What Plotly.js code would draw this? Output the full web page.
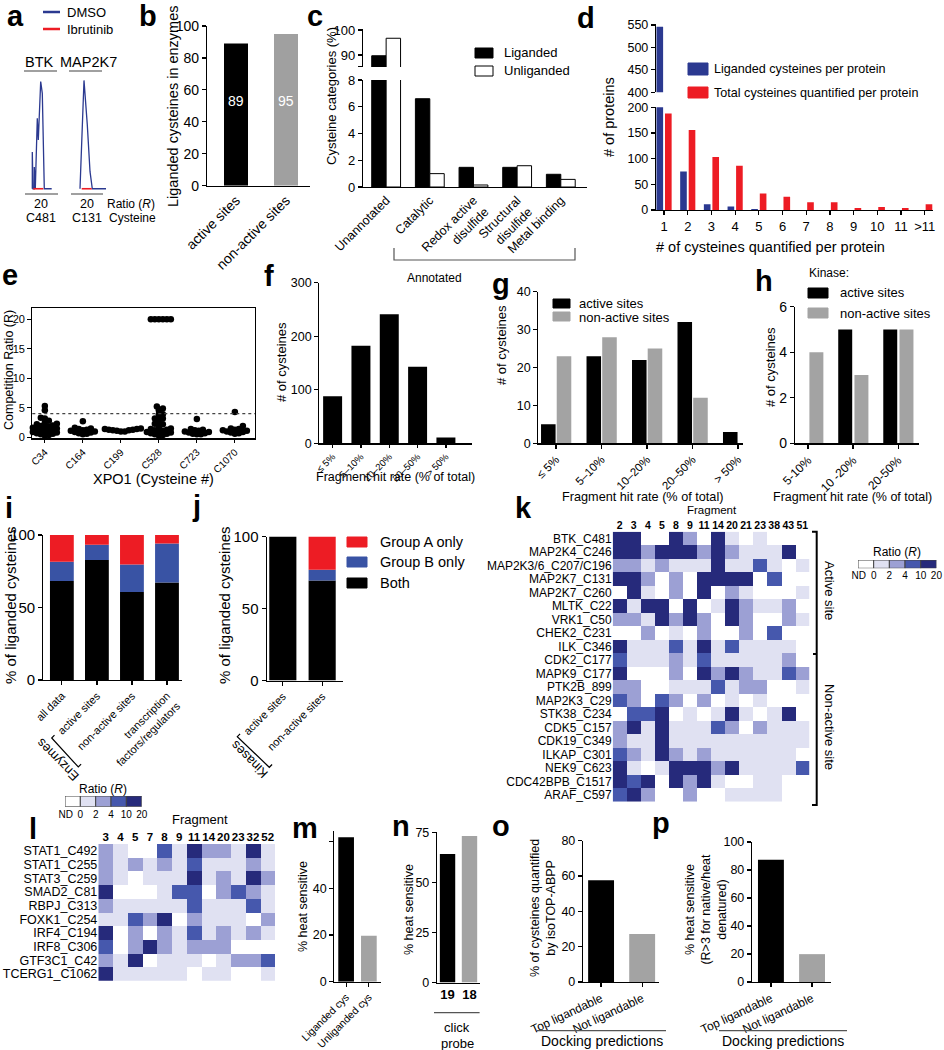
<!DOCTYPE html>
<html>
<head>
<meta charset="utf-8">
<script src="https://cdn.plot.ly/plotly-3.0.1.min.js"></script>
<style>
html,body{margin:0;padding:0;background:#fff;}
#fig{width:944px;height:1050px;}
</style>
</head>
<body>
<div id="fig"></div>
<script>
// ======================= DATA =======================
// (a) chromatogram traces (arbitrary time units, normalised intensity)
const aBtkTime    = [7.3, 7.3, 8.0, 9.3, 9.3, 10.3, 12.3, 13.3, 15.7, 17.3, 19.3, 26.7];
const aBtkDmso    = [0, 34, 0, 0, 20, 0, 65, 45, 99, 88, 0, 0];
const aBtkIbrTime = [8.3, 18.3];
const aBtkIbr     = [0, 0];
const aMapTime    = [11.0, 15.0, 18.3, 21.0, 23.3, 37.0];
const aMapDmso    = [0, 100, 59, 16, 0, 0];
const aMapIbrTime = [12.7, 22.7];
const aMapIbr     = [0, 0];
const aProteins   = ['BTK', 'MAP2K7'];
const aRatios     = ['20', '20'];
const aCysteines  = ['C481', 'C131'];

// (b)
const bCats = ['active sites', 'non-active sites'];
const bVals = [89, 95];

// (c)
const cCats  = ['Unannotated', 'Catalytic', 'Redox active<br>disulfide', 'Structural<br>disulfide', 'Metal binding'];
const cLig   = [89.7, 6.6, 1.47, 1.47, 0.95];
const cUnlig = [96.7, 1.0, 0.15, 1.59, 0.57];

// (d)
const dCats  = ['1', '2', '3', '4', '5', '6', '7', '8', '9', '10', '11', '>11'];
const dLig   = [546, 75, 11, 7, 2, 0, 0, 0, 0, 0, 0, 0];
const dTotal = [188, 156, 103, 86, 32, 26, 15, 15, 4, 6, 4, 11];

// (e) XPO1 competition ratios
const eCys   = ['C34', 'C164', 'C199', 'C528', 'C723', 'C1070'];
const eC34   = [5.3, 4.6, 3.3, 3.2, 2.8, 2.5, 2.3, 2.2, 2.0, 1.9, 1.8, 1.7, 1.6, 1.5, 1.4, 1.3, 1.2, 1.1, 1.0, 0.9, 0.8, 0.7, 0.6, 0.5, 0.4, 0.3];
const eC164  = [2.7, 1.6, 1.5, 1.4, 1.3, 1.2, 1.1, 1.0, 0.9, 0.8, 0.7, 0.6, 0.5];
const eC199  = [1.5, 1.4, 1.4, 1.3, 1.3, 1.2, 1.2, 1.1, 1.0, 1.0];
const eC528  = [20, 20, 20, 20, 20, 20, 5.2, 4.9, 4.6, 3.9, 3.9, 3.2, 3.2, 3.2, 2.5, 2.3, 2.2, 1.8, 1.5, 1.4, 1.3, 1.2, 1.1, 1.0, 0.9, 0.8, 0.7, 0.6, 0.5, 0.4, 0.3];
const eC723  = [3.1, 1.4, 1.3, 1.2, 1.1, 1.0, 0.9, 0.8, 0.7, 0.6, 0.5, 0.5];
const eC1070 = [4.3, 1.9, 1.5, 1.4, 1.3, 1.2, 1.1, 1.0, 0.9, 0.8, 0.7, 0.6];
const eThreshold = 4;

// (f)
const hitBins = ['\u2264 5%', '5\u201310%', '10\u201320%', '20\u201350%', '> 50%'];
const fVals   = [88, 182, 241, 143, 11];

// (g)
const gActive    = [5, 23, 22, 32, 3];
const gNonActive = [23, 28, 25, 12, 0];

// (h)
const hBins      = ['5-10%', '10 -20%', '20-50%'];
const hActive    = [0, 5, 5];
const hNonActive = [4, 3, 5];

// (i)
const iCats   = ['all data', 'active sites', 'non-active sites', 'transcription<br>factors/regulators'];
const iBoth   = [68.3, 82.7, 60.7, 67.2];
const iGroupB = [13.2, 10.6, 19.0, 27.0];
const iGroupA = [18.5, 6.7, 20.3, 5.8];

// (j)
const jCats   = ['active sites', 'non-active sites'];
const jBoth   = [100, 69.4];
const jGroupB = [0, 7.5];
const jGroupA = [0, 23.1];

// ratio bins (heat maps): 0 = ND, 1 = 0-2, 2 = 2-4, 3 = 4-10, 4 = 10-20
const ratioTickText = ['ND', '0', '2', '4', '10', '20'];
const binColors = ['#ffffff', '#e0e1f2', '#9ca0d4', '#4658ad', '#262a7b'];

// (k)
const kFrags = ['2', '3', '4', '5', '8', '9', '11', '14', '20', '21', '23', '38', '43', '51'];
const kRows  = ['BTK_C481', 'MAP2K4_C246', 'MAP2K3/6_C207/C196', 'MAP2K7_C131', 'MAP2K7_C260', 'MLTK_C22', 'VRK1_C50', 'CHEK2_C231', 'ILK_C346', 'CDK2_C177', 'MAPK9_C177', 'PTK2B_899', 'MAP2K3_C29', 'STK38_C234', 'CDK5_C157', 'CDK19_C349', 'ILKAP_C301', 'NEK9_C623', 'CDC42BPB_C1517', 'ARAF_C597'];
const kBins  = [
  [4,4,0,0,4,2,0,4,1,0,1,0,0,0],
  [4,4,2,4,4,4,2,4,2,1,1,1,4,0],
  [2,2,1,2,1,1,1,4,1,1,3,1,0,1],
  [4,4,2,0,2,0,4,4,4,4,0,3,0,0],
  [0,4,1,0,2,0,4,0,2,1,0,0,0,1],
  [4,1,4,4,0,4,0,1,4,2,1,1,2,0],
  [2,2,1,4,2,4,2,0,4,2,0,0,2,1],
  [0,0,2,0,1,0,2,0,0,2,0,3,0,0],
  [4,1,1,1,3,1,4,1,3,1,1,1,1,0],
  [3,1,1,1,2,1,3,1,1,1,1,1,2,0],
  [4,0,0,0,2,0,4,2,4,2,1,1,3,2],
  [2,2,0,0,1,1,1,3,1,2,2,0,0,1],
  [3,2,0,3,2,0,2,0,1,0,1,0,0,0],
  [0,3,3,4,0,1,0,1,4,1,0,1,4,0],
  [2,4,1,4,1,1,1,3,2,0,2,1,1,1],
  [2,1,1,4,1,1,1,1,1,1,1,1,1,1],
  [3,2,1,4,2,1,2,1,1,1,1,1,1,0],
  [4,1,0,1,4,4,4,2,4,1,1,1,1,3],
  [4,3,4,0,4,2,4,1,0,0,1,1,0,0],
  [3,4,2,0,0,2,0,0,1,1,1,1,0,0]
];

// (l)
const lFrags = ['3', '4', '5', '7', '8', '9', '11', '14', '20', '23', '32', '52'];
const lRows  = ['STAT1_C492', 'STAT1_C255', 'STAT3_C259', 'SMAD2_C81', 'RBPJ_C313', 'FOXK1_C254', 'IRF4_C194', 'IRF8_C306', 'GTF3C1_C42', 'TCERG1_C1062'];
const lBins  = [
  [2,1,0,0,3,1,4,2,2,1,4,1],
  [2,1,2,1,2,1,3,1,1,1,2,1],
  [2,1,0,1,1,1,4,1,2,1,4,2],
  [4,0,0,0,1,3,3,0,2,3,2,1],
  [2,1,1,1,1,1,3,1,1,1,3,1],
  [1,1,3,2,4,0,2,1,1,1,0,2],
  [4,0,2,0,2,1,3,1,2,1,2,1],
  [3,0,2,4,2,1,2,2,2,0,0,0],
  [2,1,4,0,1,1,1,0,1,2,2,3],
  [4,1,1,1,1,1,0,1,1,0,0,1]
];

// (m) - (p)
const mCats = ['Liganded cys', 'Unliganded cys'];
const mVals = [62, 19.7];
const nCats = ['19', '18'];
const nVals = [64.2, 73.2];
const oCats = ['Top ligandable', 'Not ligandable'];
const oVals = [57.6, 27.2];
const pCats = ['Top ligandable', 'Not ligandable'];
const pVals = [87.3, 19.9];

// ======================= HELPERS =======================
const W = 944, H = 1050;
const FONT = '"Liberation Sans", Arial, Helvetica, sans-serif';
const BLACK = '#000000', GRAY = '#a3a3a3', NAVY = '#2b3990', RED = '#ed1c24', GBLUE = '#3953a4';
const px = x => x / W, py = y => 1 - y / H;
const tf = (size, extra) => Object.assign({family: FONT, size: size, color: '#000'}, extra || {});

const L = {
  width: W, height: H, margin: {l: 0, r: 0, t: 0, b: 0},
  paper_bgcolor: '#fff', plot_bgcolor: 'rgba(0,0,0,0)',
  showlegend: false, barmode: 'overlay', font: tf(13),
  annotations: [], shapes: []
};
const data = [];
let nAx = 0;
function sub(xdom, ydom, xo, yo) {
  nAx++;
  const s = nAx === 1 ? '' : String(nAx);
  L['xaxis' + s] = Object.assign({domain: [px(xdom[0]), px(xdom[1])], anchor: 'y' + s, fixedrange: true}, xo);
  L['yaxis' + s] = Object.assign({domain: [py(ydom[1]), py(ydom[0])], anchor: 'x' + s, fixedrange: true}, yo);
  return {xaxis: 'x' + s, yaxis: 'y' + s};
}
function axis(o) {
  return Object.assign({showline: true, linecolor: '#000', linewidth: 1.2, ticks: 'outside', ticklen: 4,
    tickwidth: 1.2, tickcolor: '#000', showgrid: false, zeroline: false, tickfont: tf(13)}, o);
}
function hidden(o) { return Object.assign({visible: false, showgrid: false, zeroline: false}, o); }
function T(text, x, y, o) {
  o = o || {};
  const a = {text: text, x: px(x), y: py(y), xref: 'paper', yref: 'paper', showarrow: false,
    xanchor: o.xanchor || 'center', yanchor: o.yanchor || 'middle',
    font: tf(o.size || 13, {weight: o.weight || 'normal', color: o.color || '#000'})};
  if (o.angle !== undefined) a.textangle = o.angle;
  if (o.align) a.align = o.align;
  L.annotations.push(a);
}
function P(pts, color, width) {
  const d = pts.map((p, i) => (i ? 'L' : 'M') + px(p[0]).toFixed(5) + ',' + py(p[1]).toFixed(5)).join(' ');
  L.shapes.push({type: 'path', path: d, xref: 'paper', yref: 'paper', line: {color: color || '#000', width: width || 1.2}});
}
function R(x0, y0, x1, y1, fill, line) {
  L.shapes.push({type: 'rect', xref: 'paper', yref: 'paper', x0: px(x0), x1: px(x1), y0: py(y1), y1: py(y0),
    fillcolor: fill, line: {color: line || fill, width: 1}});
}
function bar(ref, x, y, o) {
  data.push(Object.assign({type: 'bar', x: x, y: y, hoverinfo: 'skip'}, ref, o));
}
function letter(ch, x, baseline) { T(ch, x, baseline - 9.5, {size: 29, weight: 'bold', xanchor: 'left'}); }
function swarm(vals, xUnitPx, yUnitPx, dPx) {
  const idx = vals.map((v, i) => i).sort((a, b) => vals[a] - vals[b]);
  const placed = [], off = new Array(vals.length).fill(0), step = dPx / 2;
  for (const i of idx) {
    const y = vals[i] * yUnitPx;
    for (let k = 0; k < 400; k++) {
      const o = k === 0 ? 0 : (k % 2 ? 1 : -1) * Math.ceil(k / 2) * step;
      let ok = true;
      for (const p of placed) { const dx = p[0] - o, dy = p[1] - y; if (dx * dx + dy * dy < dPx * dPx) { ok = false; break; } }
      if (ok) { placed.push([o, y]); off[i] = o / xUnitPx; break; }
    }
  }
  return off;
}

// ======================= PANEL a =======================
const sa1 = sub([25, 57], [75, 192], hidden({range: [0, 32]}), hidden({range: [-3, 105]}));
const sa2 = sub([69, 106], [75, 192], hidden({range: [0, 37]}), hidden({range: [-3, 105]}));
data.push(Object.assign({type: 'scatter', mode: 'lines', x: aBtkTime, y: aBtkDmso, line: {color: NAVY, width: 1.3}, hoverinfo: 'skip'}, sa1));
data.push(Object.assign({type: 'scatter', mode: 'lines', x: aBtkIbrTime, y: aBtkIbr, line: {color: RED, width: 1.6}, hoverinfo: 'skip'}, sa1));
data.push(Object.assign({type: 'scatter', mode: 'lines', x: aMapTime, y: aMapDmso, line: {color: NAVY, width: 1.3}, hoverinfo: 'skip'}, sa2));
data.push(Object.assign({type: 'scatter', mode: 'lines', x: aMapIbrTime, y: aMapIbr, line: {color: RED, width: 1.6}, hoverinfo: 'skip'}, sa2));
P([[24, 71], [57, 71]], '#808080', 1.3); P([[69, 71], [102, 71]], '#808080', 1.3);
P([[25, 194], [58, 194]], '#808080', 1.3); P([[71, 194], [103, 194]], '#808080', 1.3);
T(aProteins[0], 39, 62, {size: 14.5}); T(aProteins[1], 88, 62, {size: 14.5});
T(aRatios[0], 41, 204, {size: 12.5}); T(aRatios[1], 87, 204, {size: 12.5});
T(aCysteines[0], 41, 218, {size: 12.5}); T(aCysteines[1], 87, 218, {size: 12.5});
T('Ratio (<i>R</i>)', 105, 204, {size: 12, xanchor: 'left'});
T('Cysteine', 107, 218, {size: 12, xanchor: 'left'});
P([[43, 12], [60, 12]], NAVY, 2.5); T('DMSO', 65, 12, {size: 13, xanchor: 'left'});
P([[43, 29], [60, 29]], RED, 2.5); T('Ibrutinib', 65, 29, {size: 13, xanchor: 'left'});

// ======================= PANEL b =======================
const sb = sub([207, 310], [26, 185.7],
  axis({type: 'category', range: [-0.58, 1.48], ticks: '', tickangle: -45, tickfont: tf(14)}),
  axis({range: [0, 100], tickvals: [0, 20, 40, 60, 80, 100], tickfont: tf(14)}));
bar(sb, bCats, bVals, {width: 0.48, offset: -0.24, marker: {color: [BLACK, '#a0a0a0']}});
bCats.forEach((c, k) => L.annotations.push({text: String(bVals[k]), x: c, y: 53, xref: sb.xaxis, yref: sb.yaxis,
  showarrow: false, font: tf(14, {color: '#fff'})}));
T('Liganded cysteines in enzymes', 173, 106, {size: 14.5, angle: -90});

// ======================= PANEL c =======================
const scU = sub([363, 587], [29, 67], hidden({type: 'category', range: [-0.53, 4.6]}),
  axis({range: [85.2, 100.4], tickvals: [85.4, 90, 100], ticktext: ['', '90', '100'], tickfont: tf(13)}));
const scL = sub([363, 587], [80, 187],
  axis({type: 'category', range: [-0.53, 4.6], ticks: '', tickangle: -45, tickfont: tf(12.5)}),
  axis({range: [0, 8], tickvals: [0, 2, 4, 6, 8], tickfont: tf(13)}));
[scU, scL].forEach(s => {
  bar(s, cCats, cLig, {width: 0.33, offset: -0.33, marker: {color: BLACK, line: {color: '#000', width: 1}}});
  bar(s, cCats, cUnlig, {width: 0.33, offset: 0, marker: {color: '#fff', line: {color: '#000', width: 1}}});
});
T('Cysteine categories (%)', 332, 96, {size: 13, angle: -90});
R(475, 48, 493, 58, BLACK, '#000'); T('Liganded', 502, 53, {size: 13, xanchor: 'left'});
R(475, 66, 493, 76, '#fff', '#000'); T('Unliganded', 502, 71, {size: 13, xanchor: 'left'});
P([[394, 248], [394, 260], [575, 260], [575, 248]], '#555', 1.2);
T('Annotated', 434, 278, {size: 12});

// ======================= PANEL d =======================
const sdU = sub([656, 933], [24, 92.3], hidden({type: 'category', range: [-0.34, 11.35]}),
  axis({range: [400, 552], tickvals: [400, 450, 500, 550], tickfont: tf(12.5)}));
const sdL = sub([656, 933], [107.3, 210],
  axis({type: 'category', range: [-0.34, 11.35], tickfont: tf(13)}),
  axis({range: [0, 200], tickvals: [0, 50, 100, 150, 200], tickfont: tf(12.5)}));
[sdU, sdL].forEach(s => {
  bar(s, dCats, dLig, {width: 0.28, offset: -0.32, marker: {color: NAVY}});
  bar(s, dCats, dTotal, {width: 0.28, offset: 0.04, marker: {color: RED}});
});
T('# of proteins', 609, 117, {size: 14.5, angle: -90});
T('# of cysteines quantified per protein', 770, 247, {size: 14.5});
R(688, 63, 708, 75, NAVY); T('Liganded cysteines per protein', 712, 69.5, {size: 12.6, xanchor: 'left'});
R(688, 87, 708, 98, RED); T('Total cysteines quantified per protein', 712, 93, {size: 12.6, xanchor: 'left'});

// ======================= PANEL e =======================
const se = sub([32.3, 255], [308.3, 438.3],
  axis({range: [-0.33, 5.53], tickvals: [0, 1, 2, 3, 4, 5], ticktext: eCys, tickangle: -45, mirror: true, ticklen: 3, tickfont: tf(10)}),
  axis({range: [-0.17, 21.86], tickvals: [0, 5, 10, 15, 20], mirror: true, tickfont: tf(11)}));
const eAll = [eC34, eC164, eC199, eC528, eC723, eC1070];
const eX = [], eY = [];
eAll.forEach((vals, ci) => {
  const off = swarm(vals, 38.0, 5.9, 4.0);
  vals.forEach((v, k) => { eX.push(ci + off[k]); eY.push(v); });
});
data.push(Object.assign({type: 'scatter', mode: 'markers', x: eX, y: eY, marker: {color: '#000', size: 6.5}, hoverinfo: 'skip', cliponaxis: false}, se));
L.shapes.push({type: 'line', xref: se.xaxis + ' domain', yref: se.yaxis, x0: 0, x1: 1, y0: eThreshold, y1: eThreshold,
  line: {color: '#444', width: 1.2, dash: 'dot'}});
T('Competition Ratio (R)', 9, 370, {size: 12.5, angle: -90});
T('XPO1 (Cysteine #)', 153, 479, {size: 14.5});

// ======================= PANEL f =======================
const sf = sub([319.3, 471.7], [282.7, 443.3],
  axis({type: 'category', range: [-0.47, 4.91], tickangle: -45, ticklen: 3, tickfont: tf(9.5)}),
  axis({range: [0, 300], tickvals: [0, 100, 200, 300], tickfont: tf(12.5)}));
bar(sf, hitBins, fVals, {width: 0.67, offset: -0.335, marker: {color: BLACK}});
T('# of cysteines', 281, 362, {size: 13, angle: -90});
T('Fragment hit rate (% of total)', 395, 477, {size: 12.5});

// ======================= PANEL g =======================
const sg = sub([538.3, 743], [291.7, 443.3],
  axis({type: 'category', range: [-0.39, 4.11], tickangle: -45, tickfont: tf(11.5)}),
  axis({range: [0, 40], tickvals: [0, 10, 20, 30, 40], tickfont: tf(12.5)}));
bar(sg, hitBins, gActive, {width: 0.32, offset: -0.33, marker: {color: BLACK}});
bar(sg, hitBins, gNonActive, {width: 0.32, offset: 0.015, marker: {color: GRAY}});
T('# of cysteines', 502, 345, {size: 13, angle: -90});
T('Fragment hit rate (% of total)', 642, 497, {size: 12.7});
R(553, 299, 570, 308, BLACK); T('active sites', 577, 303.5, {size: 13, xanchor: 'left'});
R(553, 312, 570, 321, GRAY); T('non-active sites', 577, 317, {size: 13, xanchor: 'left'});

// ======================= PANEL h =======================
const sh = sub([795, 919.3], [306.7, 443.3],
  axis({type: 'category', range: [-0.29, 2.47], tickangle: -45, tickfont: tf(12)}),
  axis({range: [0, 6], tickvals: [0, 2, 4, 6], tickfont: tf(14)}));
bar(sh, hBins, hActive, {width: 0.31, offset: -0.33, marker: {color: BLACK}});
bar(sh, hBins, hNonActive, {width: 0.31, offset: 0.03, marker: {color: GRAY}});
T('# of cysteines', 770, 367, {size: 13, angle: -90});
T('Fragment hit rate (% of total)', 852, 497, {size: 12.5});
T('Kinase:', 807, 273, {size: 12, xanchor: 'left'});
R(808, 288, 828, 298, BLACK); T('active sites', 838, 293, {size: 13, xanchor: 'left'});
R(808, 308, 828, 318, GRAY); T('non-active sites', 838, 313, {size: 13, xanchor: 'left'});

// ======================= PANEL i =======================
const si = sub([43.3, 181.7], [535, 680],
  axis({type: 'category', range: [-0.53, 3.42], tickangle: -45, tickfont: tf(11)}),
  axis({range: [0, 100], tickvals: [0, 50, 100], tickfont: tf(15)}));
bar(si, iCats, iBoth, {width: 0.68, offset: -0.34, marker: {color: BLACK}});
bar(si, iCats, iGroupB, {base: iBoth, width: 0.68, offset: -0.34, marker: {color: GBLUE}});
bar(si, iCats, iGroupA, {base: iBoth.map((v, k) => v + iGroupB[k]), width: 0.68, offset: -0.34, marker: {color: RED}});
T('% of liganded cysteines', 10, 605, {size: 15, angle: -90});
P([[54.5, 735.2], [51.7, 738], [78.3, 767], [81.1, 764.2]], '#000', 1.2);
T('Enzymes', 57, 760, {size: 13, angle: -135});

// ======================= PANEL j =======================
const sj = sub([266.7, 343], [536.5, 680.5],
  axis({type: 'category', range: [-0.41, 1.53], tickangle: -45, tickfont: tf(11)}),
  axis({range: [0, 100], tickvals: [0, 50, 100], tickfont: tf(15)}));
bar(sj, jCats, jBoth, {width: 0.69, offset: -0.345, marker: {color: BLACK}});
bar(sj, jCats, jGroupB, {base: jBoth, width: 0.69, offset: -0.345, marker: {color: GBLUE}});
bar(sj, jCats, jGroupA, {base: jBoth.map((v, k) => v + jGroupB[k]), width: 0.69, offset: -0.345, marker: {color: RED}});
T('% of liganded cysteines', 224, 605, {size: 15, angle: -90});
P([[240.1, 733.9], [237.3, 736.7], [269.3, 767.3], [272.1, 764.5]], '#000', 1.2);
T('Kinases', 249, 760, {size: 13, angle: -135});
R(347, 537, 367, 547, RED); T('Group A only', 378, 542, {size: 14.5, xanchor: 'left'});
R(347, 557, 367, 567, GBLUE); T('Group B only', 378, 562, {size: 14.5, xanchor: 'left'});
R(347, 578, 367, 588, BLACK); T('Both', 378, 583, {size: 14.5, xanchor: 'left'});

// ======================= heat-map helpers =======================
const CS = [];
binColors.forEach((c, k) => { const a = Math.max(0, (k - 0.5) / 4), b = Math.min(1, (k + 0.5) / 4); CS.push([a, c]); CS.push([b, c]); });
function heat(ref, z, x, y) {
  data.push(Object.assign({type: 'heatmap', z: z, x: x, y: y, zmin: 0, zmax: 4, colorscale: CS, showscale: false,
    xgap: 0, ygap: 0, hoverinfo: 'skip'}, ref));
}
function key(ref) {
  bar(ref, binColors.map((c, k) => k + 0.5), binColors.map(() => 1),
    {width: 1, marker: {color: binColors, line: {color: '#444', width: 1}}, cliponaxis: false});
}
const keyX = (o) => Object.assign({range: [0, 5], showline: false, ticks: '', tickvals: [0.05, 1, 2, 3, 4, 5],
  ticktext: ratioTickText, tickangle: 0, tickfont: tf(10), showgrid: false, zeroline: false}, o);
const heatAx = (cats, range, font, extra) => Object.assign({type: 'category', range: range, showline: false, ticks: '',
  showgrid: false, zeroline: false, tickmode: 'array', tickvals: cats, ticktext: cats, tickangle: 0, tickfont: font}, extra || {});

// ======================= PANEL k =======================
const sk = sub([612.7, 809.3], [531.7, 801.7],
  heatAx(kFrags, [-0.5, 13.5], tf(10.5, {weight: 'bold'}), {side: 'top'}),
  heatAx(kRows, [19.5, -0.5], tf(12)));
heat(sk, kBins, kFrags, kRows);
T('Fragment', 712, 510, {size: 11.5});
const skk = sub([858, 936.4], [560, 568.3], keyX({}), hidden({range: [0, 1]}));
key(skk);
T('Ratio (<i>R</i>)', 897, 552, {size: 12});
P([[812, 531.7], [816.7, 531.7], [816.7, 805], [812, 805]], '#000', 2);
P([[813, 654], [816.7, 654]], '#000', 2);
T('Active site', 830, 590, {size: 13, angle: 90});
T('Non-active site', 830, 727, {size: 13, angle: 90});

// ======================= PANEL l =======================
const sl = sub([98.3, 275], [844, 980.7],
  heatAx(lFrags, [-0.5, 11.5], tf(11.5, {weight: 'bold'}), {side: 'top'}),
  heatAx(lRows, [9.5, -0.5], tf(12.5)));
heat(sl, lBins, lFrags, lRows);
T('Fragment', 200, 819, {size: 13});
const slk = sub([65, 141.7], [796, 806.7], keyX({}), hidden({range: [0, 1]}));
key(slk);
T('Ratio (<i>R</i>)', 103, 789, {size: 12});

// ======================= PANEL m =======================
const sm = sub([334.3, 380.7], [830.7, 981.7],
  axis({type: 'category', range: [-0.52, 1.52], tickangle: -45, tickfont: tf(10.5)}),
  axis({range: [0, 64.8], tickvals: [0, 20, 40, 60], ticktext: ['0', '20', '40', ''], tickfont: tf(12.5)}));
bar(sm, mCats, mVals, {width: 0.69, offset: -0.345, marker: {color: [BLACK, GRAY]}});
T('% heat sensitive', 303, 907, {size: 12.5, angle: -90});

// ======================= PANEL n =======================
const sn = sub([437, 479.6], [832.3, 982.5],
  axis({type: 'category', range: [-0.48, 1.46], ticks: '', tickfont: tf(13, {weight: 'bold'})}),
  axis({range: [0, 75], tickvals: [0, 25, 50, 75], tickfont: tf(12.5)}));
bar(sn, nCats, nVals, {width: 0.7, offset: -0.35, marker: {color: [BLACK, GRAY]}});
T('% heat sensitive', 409, 910, {size: 12.5, angle: -90});
P([[434, 1012.7], [479.6, 1012.7]], '#555', 1.2);
T('click', 457, 1027, {size: 13}); T('probe', 457, 1043, {size: 13});

// ======================= PANEL o =======================
const so = sub([583, 658.6], [840.7, 982],
  axis({type: 'category', range: [-0.44, 1.40], tickangle: -25, tickfont: tf(12)}),
  axis({range: [0, 80], tickvals: [0, 20, 40, 60, 80], tickfont: tf(12.5)}));
bar(so, oCats, oVals, {width: 0.63, offset: -0.315, marker: {color: [BLACK, GRAY]}});
T('% of cysteines quantified<br>by isoTOP-ABPP', 543, 908, {size: 12.5, angle: -90});
P([[537, 1030.7], [666, 1030.7]], '#555', 1.2);
T('Docking predictions', 601.5, 1041, {size: 14});

// ======================= PANEL p =======================
const sp = sub([752, 831], [842, 982],
  axis({type: 'category', range: [-0.46, 1.46], tickangle: -25, tickfont: tf(12)}),
  axis({range: [0, 100], tickvals: [0, 20, 40, 60, 80, 100], tickfont: tf(12.5)}));
bar(sp, pCats, pVals, {width: 0.63, offset: -0.315, marker: {color: [BLACK, GRAY]}});
T('% heat sensitive<br>(R>3 for native/heat<br>denatured)', 705.6, 909, {size: 12.5, angle: -90});
P([[719, 1030.7], [847, 1030.7]], '#555', 1.2);
T('Docking predictions', 783, 1041, {size: 14});

// ======================= panel letters =======================
letter('a', 5, 26); letter('b', 137, 26); letter('c', 305, 26); letter('d', 575, 27);
letter('e', 0, 284); letter('f', 262, 285); letter('g', 490, 293); letter('h', 753, 290);
letter('i', 3, 518); letter('j', 190, 515); letter('k', 513, 518);
letter('l', 27, 838); letter('m', 290, 837); letter('n', 390, 835); letter('o', 490, 835); letter('p', 650, 832);

Plotly.newPlot('fig', data, L, {staticPlot: true, displayModeBar: false});
</script>
</body>
</html>
